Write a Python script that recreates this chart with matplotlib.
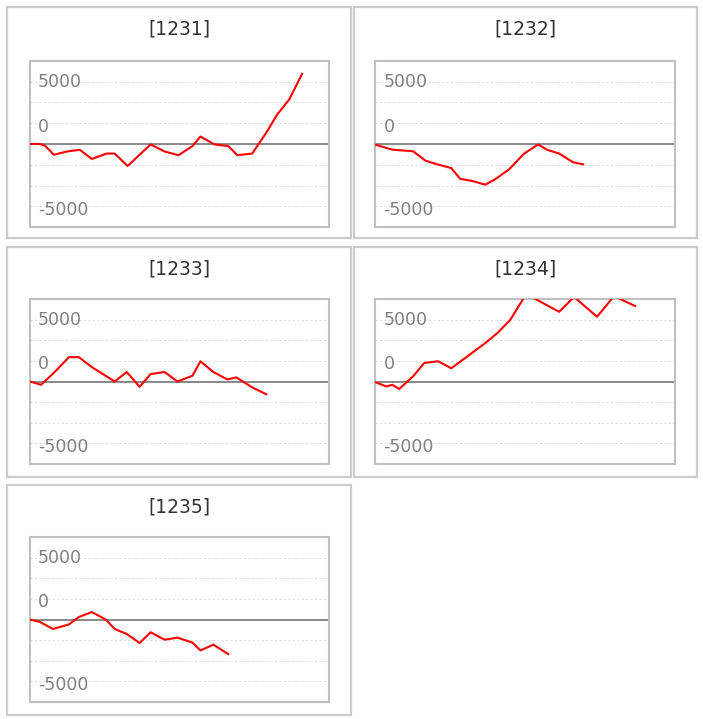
import matplotlib.pyplot as plt
from matplotlib.patches import Rectangle
from matplotlib import transforms

# --- Datos de cada panel ---
titulos = ["[1231]", "[1232]", "[1233]", "[1234]", "[1235]"]

x1 = [0, 1.0, 1.5, 2.4, 3.7, 5.0, 6.2, 7.7, 8.5, 9.8, 12.1, 13.5, 14.9, 16.3, 17.1,
      18.5, 19.9, 20.8, 22.3, 23.7, 24.8, 26.0, 27.3]
y1 = [0, 0, -200, -1300, -900, -700, -1800, -1150, -1150, -2650, -50, -900, -1350,
      -250, 900, -50, -250, -1350, -1150, 1350, 3550, 5350, 8450]

x2 = [0, 1.7, 3.8, 5.0, 6.2, 7.6, 8.5, 9.7, 11.0, 12.0, 13.4, 14.9, 16.3, 17.2, 18.4,
      19.8, 20.8]
y2 = [-80, -680, -880, -2000, -2450, -2900, -4200, -4450, -4900, -4250, -3050, -1150,
      -50, -700, -1150, -2200, -2450]

x3 = [0, 1.1, 2.4, 3.9, 4.9, 6.2, 8.5, 9.7, 11.0, 12.1, 13.5, 14.8, 16.3, 17.1, 18.4,
      19.8, 20.7, 22.2, 23.7]
y3 = [0, -400, 1050, 2950, 2950, 1750, 0, 1150, -650, 900, 1150, 0, 700, 2450, 1150,
      250, 500, -650, -1550]

x4 = [0, 1.1, 1.7, 2.4, 3.8, 4.9, 6.3, 7.6, 9.0, 11.0, 12.2, 13.5, 15.1, 18.4, 19.9,
      22.2, 23.9, 26.0]
y4 = [-80, -600, -400, -900, 650, 2250, 2450, 1600, 2850, 4650, 5850, 7450, 10600,
      8450, 10250, 7850, 10350, 9150]

x5 = [0, 1.0, 2.3, 3.9, 4.9, 6.2, 7.6, 8.5, 9.7, 11.0, 12.1, 13.5, 14.8, 16.3, 17.1,
      18.4, 19.9]
y5 = [0, -300, -1150, -600, 300, 900, 0, -1150, -1750, -2850, -1550, -2450, -2200,
      -2800, -3750, -3050, -4200]

series = [(x1, y1), (x2, y2), (x3, y3), (x4, y4), (x5, y5)]

# lineas de la rejilla y etiquetas del eje (tal como aparecen)
rejilla = [-7500, -5000, -2500, 2500, 5000, 7500]
etiquetas_pos = [7500, 2500, -7500]
etiquetas_txt = ["5000", "0", "-5000"]

# --- Disposicion en pixeles ---
W, H = 703, 719
col_caja = [(7, 351), (353.5, 696.5)]
col_plot = [(30, 329), (375.3, 675)]
fila_caja = [(7, 238), (247, 477), (485, 715)]
fila_plot = [(61, 227), (299, 464), (537, 702)]

fig = plt.figure(figsize=(W / 100, H / 100), dpi=100)


def rect(x0, x1_, y0, y1_):
    return [x0 / W, 1 - y1_ / H, (x1_ - x0) / W, (y1_ - y0) / H]


for i, (xs, ys) in enumerate(series):
    fila, col = divmod(i, 2)
    bx0, bx1 = col_caja[col]
    by0, by1 = fila_caja[fila]
    px0, px1 = col_plot[col]
    py0, py1 = fila_plot[fila]

    # caja exterior
    fig.add_artist(Rectangle((bx0 / W, 1 - by1 / H), (bx1 - bx0) / W, (by1 - by0) / H,
                             transform=fig.transFigure, fill=False,
                             edgecolor="#cccccc", linewidth=1.6))
    fig.text((bx0 + bx1) / 2 / W, 1 - (by0 + 22) / H, titulos[i], ha="center",
             va="center", fontsize=13.5, color="#333333")

    ax = fig.add_axes(rect(px0, px1, py0, py1))
    for v in rejilla:
        ax.axhline(v, color="#dddddd", linewidth=0.8, linestyle=(0, (2, 2)), zorder=1)
    ax.axhline(0, color="#888888", linewidth=1.4, zorder=2)
    ax.plot(xs, ys, color="red", linewidth=1.5, zorder=3)

    trans = transforms.blended_transform_factory(ax.transAxes, ax.transData)
    for pos, txt in zip(etiquetas_pos, etiquetas_txt):
        desplaz = 0 if pos > 5000 else -400
        ax.text(0.027, pos + desplaz, txt, transform=trans, ha="left", va="center",
                fontsize=12.5, color="#808080", zorder=4)

    ax.set_xlim(0, 30)
    ax.set_ylim(-10000, 10000)
    ax.set_xticks([])
    ax.set_yticks([])
    for s in ax.spines.values():
        s.set_color("#c0c0c0")
        s.set_linewidth(1.5)

fig.savefig("out.png", dpi=100)
